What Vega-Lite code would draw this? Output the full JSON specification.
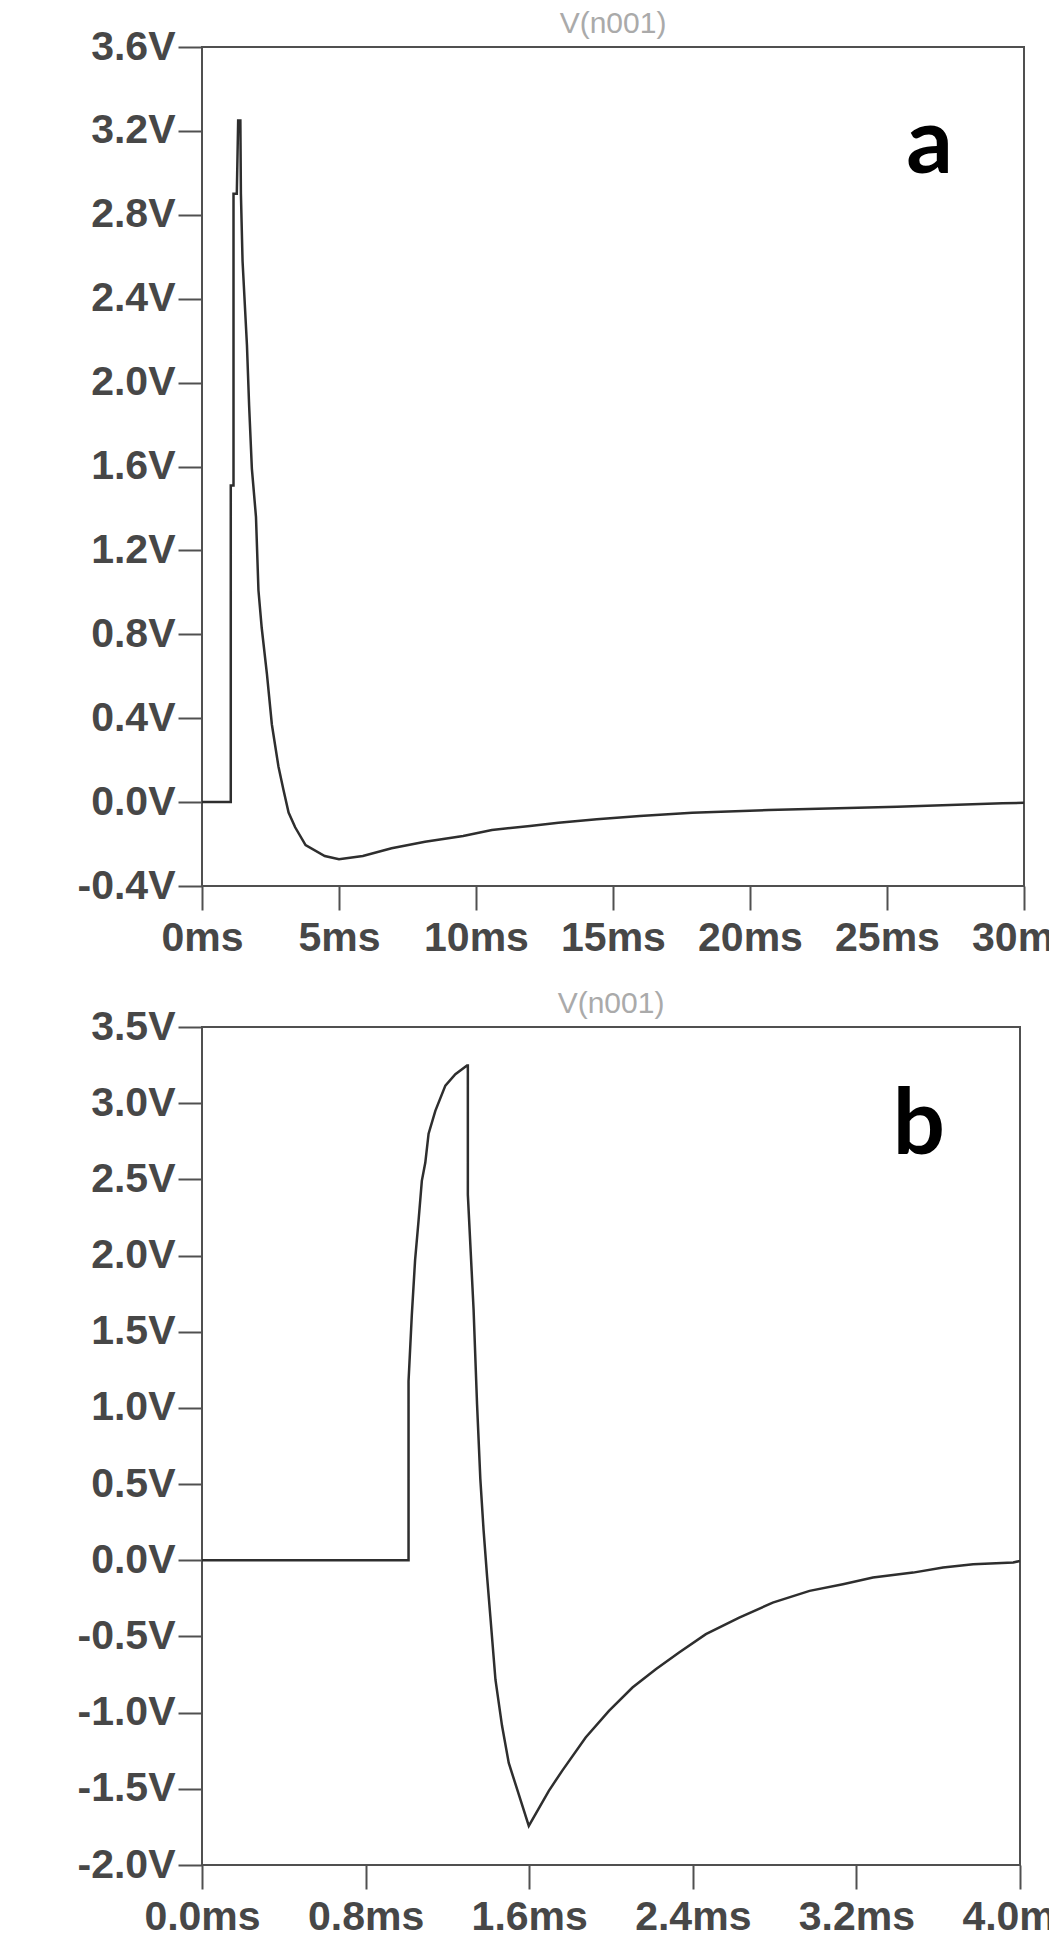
{
  "$schema": "https://vega.github.io/schema/vega-lite/v6.json",
  "background": "white",
  "padding": {"left": 0, "top": 8, "right": 0, "bottom": 0},
  "autosize": {"type": "pad"},
  "spacing": 29,
  "align": "none",
  "config": {
    "view": {"stroke": "#505050", "strokeWidth": 2},
    "axis": {
      "labelFont": "Liberation Sans",
      "labelFontWeight": "bold",
      "labelFontSize": 41,
      "labelColor": "#474747",
      "tickColor": "#505050",
      "tickWidth": 2,
      "tickSize": 24,
      "domain": false,
      "grid": false,
      "title": null,
      "labelOverlap": false,
      "labelFlush": false,
      "labelBound": false
    },
    "axisY": {"labelPadding": 3},
    "axisX": {"labelPadding": 8},
    "title": {"font": "Liberation Sans", "fontSize": 30, "fontWeight": "normal", "color": "#aaaaaa", "offset": -13, "frame": "group"}
  },
  "vconcat": [
    {
      "width": 822,
      "height": 839,
      "title": {"text": "V(n001)"},
      "data": {"values": [
        {"i": 1, "t": 0, "v": 0},
        {"i": 2, "t": 1.05, "v": 0},
        {"i": 3, "t": 1.05, "v": 1.51},
        {"i": 4, "t": 1.15, "v": 1.51},
        {"i": 5, "t": 1.15, "v": 2.9},
        {"i": 6, "t": 1.27, "v": 2.9},
        {"i": 7, "t": 1.32, "v": 3.25},
        {"i": 8, "t": 1.4, "v": 3.25},
        {"i": 9, "t": 1.42, "v": 2.9},
        {"i": 10, "t": 1.48, "v": 2.58},
        {"i": 11, "t": 1.64, "v": 2.18},
        {"i": 12, "t": 1.72, "v": 1.89},
        {"i": 13, "t": 1.82, "v": 1.59},
        {"i": 14, "t": 1.97, "v": 1.36},
        {"i": 15, "t": 2.06, "v": 1.01},
        {"i": 16, "t": 2.18, "v": 0.83},
        {"i": 17, "t": 2.37, "v": 0.61},
        {"i": 18, "t": 2.55, "v": 0.37},
        {"i": 19, "t": 2.79, "v": 0.17},
        {"i": 20, "t": 2.97, "v": 0.06},
        {"i": 21, "t": 3.16, "v": -0.05},
        {"i": 22, "t": 3.4, "v": -0.12},
        {"i": 23, "t": 3.78, "v": -0.205},
        {"i": 24, "t": 4.48, "v": -0.257},
        {"i": 25, "t": 5.0, "v": -0.272},
        {"i": 26, "t": 5.87, "v": -0.257},
        {"i": 27, "t": 6.92, "v": -0.22},
        {"i": 28, "t": 8.14, "v": -0.189},
        {"i": 29, "t": 9.53, "v": -0.162},
        {"i": 30, "t": 10.58, "v": -0.133},
        {"i": 31, "t": 11.97, "v": -0.114},
        {"i": 32, "t": 13.01, "v": -0.098},
        {"i": 33, "t": 14.41, "v": -0.082},
        {"i": 34, "t": 15.98, "v": -0.066},
        {"i": 35, "t": 17.89, "v": -0.051},
        {"i": 36, "t": 20.68, "v": -0.038},
        {"i": 37, "t": 25.38, "v": -0.022},
        {"i": 38, "t": 29.21, "v": -0.006},
        {"i": 39, "t": 30, "v": -0.003}
      ]},
      "layer": [
        {
          "mark": {"type": "line", "color": "#2e2e2e", "strokeWidth": 2.5, "clip": true},
          "encoding": {
            "x": {"field": "t", "type": "quantitative",
              "scale": {"domain": [0, 30], "nice": false, "zero": false},
              "axis": {"values": [0, 5, 10, 15, 20, 25, 30], "labelExpr": "datum.value + 'ms'"}},
            "y": {"field": "v", "type": "quantitative",
              "scale": {"domain": [-0.4, 3.6], "nice": false, "zero": false},
              "axis": {"values": [-0.4, 0, 0.4, 0.8, 1.2, 1.6, 2.0, 2.4, 2.8, 3.2, 3.6],
                "labelExpr": "(datum.value < -0.001 ? '-' : '') + format(abs(datum.value), '.1f') + 'V'",
                "minExtent": 201, "maxExtent": 201}},
            "order": {"field": "i", "type": "quantitative"}
          }
        },
        {
          "data": {"values": [{"label": "a"}]},
          "mark": {"type": "text", "font": "Lato", "fontWeight": "bold", "fontSize": 92, "color": "#000000", "align": "center", "baseline": "alphabetic"},
          "encoding": {
            "x": {"datum": 26.55, "type": "quantitative"},
            "y": {"datum": 3.0, "type": "quantitative"},
            "text": {"field": "label"}
          }
        }
      ]
    },
    {
      "width": 818,
      "height": 838,
      "title": {"text": "V(n001)"},
      "data": {"values": [
        {"i": 1, "t": 0, "v": 0},
        {"i": 2, "t": 1.01, "v": 0},
        {"i": 3, "t": 1.01, "v": 1.175},
        {"i": 4, "t": 1.026, "v": 1.61},
        {"i": 5, "t": 1.042, "v": 1.97},
        {"i": 6, "t": 1.059, "v": 2.23},
        {"i": 7, "t": 1.075, "v": 2.49},
        {"i": 8, "t": 1.092, "v": 2.61},
        {"i": 9, "t": 1.108, "v": 2.8},
        {"i": 10, "t": 1.141, "v": 2.95},
        {"i": 11, "t": 1.19, "v": 3.115},
        {"i": 12, "t": 1.239, "v": 3.19},
        {"i": 13, "t": 1.296, "v": 3.247},
        {"i": 14, "t": 1.3, "v": 3.247},
        {"i": 15, "t": 1.3, "v": 2.4},
        {"i": 16, "t": 1.328, "v": 1.646},
        {"i": 17, "t": 1.345, "v": 1.024},
        {"i": 18, "t": 1.361, "v": 0.534},
        {"i": 19, "t": 1.377, "v": 0.196},
        {"i": 20, "t": 1.394, "v": -0.106},
        {"i": 21, "t": 1.41, "v": -0.369},
        {"i": 22, "t": 1.435, "v": -0.784},
        {"i": 23, "t": 1.467, "v": -1.085},
        {"i": 24, "t": 1.5, "v": -1.33},
        {"i": 25, "t": 1.549, "v": -1.537},
        {"i": 26, "t": 1.598, "v": -1.743},
        {"i": 27, "t": 1.696, "v": -1.513},
        {"i": 28, "t": 1.761, "v": -1.382},
        {"i": 29, "t": 1.876, "v": -1.163},
        {"i": 30, "t": 1.99, "v": -0.988},
        {"i": 31, "t": 2.105, "v": -0.835},
        {"i": 32, "t": 2.219, "v": -0.715},
        {"i": 33, "t": 2.333, "v": -0.606},
        {"i": 34, "t": 2.464, "v": -0.485},
        {"i": 35, "t": 2.627, "v": -0.376},
        {"i": 36, "t": 2.791, "v": -0.278},
        {"i": 37, "t": 2.971, "v": -0.201},
        {"i": 38, "t": 3.134, "v": -0.157},
        {"i": 39, "t": 3.281, "v": -0.113},
        {"i": 40, "t": 3.477, "v": -0.081},
        {"i": 41, "t": 3.624, "v": -0.048},
        {"i": 42, "t": 3.771, "v": -0.026},
        {"i": 43, "t": 3.967, "v": -0.015},
        {"i": 44, "t": 4.0, "v": -0.004}
      ]},
      "layer": [
        {
          "mark": {"type": "line", "color": "#2e2e2e", "strokeWidth": 2.5, "clip": true},
          "encoding": {
            "x": {"field": "t", "type": "quantitative",
              "scale": {"domain": [0, 4], "nice": false, "zero": false},
              "axis": {"values": [0, 0.8, 1.6, 2.4, 3.2, 4.0], "labelExpr": "format(datum.value, '.1f') + 'ms'"}},
            "y": {"field": "v", "type": "quantitative",
              "scale": {"domain": [-2, 3.5], "nice": false, "zero": false},
              "axis": {"values": [-2, -1.5, -1, -0.5, 0, 0.5, 1, 1.5, 2, 2.5, 3, 3.5],
                "labelExpr": "(datum.value < -0.001 ? '-' : '') + format(abs(datum.value), '.1f') + 'V'",
                "minExtent": 201, "maxExtent": 201}},
            "order": {"field": "i", "type": "quantitative"}
          }
        },
        {
          "data": {"values": [{"label": "b"}]},
          "mark": {"type": "text", "font": "Lato", "fontWeight": "bold", "fontSize": 92, "color": "#000000", "align": "center", "baseline": "alphabetic"},
          "encoding": {
            "x": {"datum": 3.505, "type": "quantitative"},
            "y": {"datum": 2.667, "type": "quantitative"},
            "text": {"field": "label"}
          }
        }
      ]
    }
  ]
}
